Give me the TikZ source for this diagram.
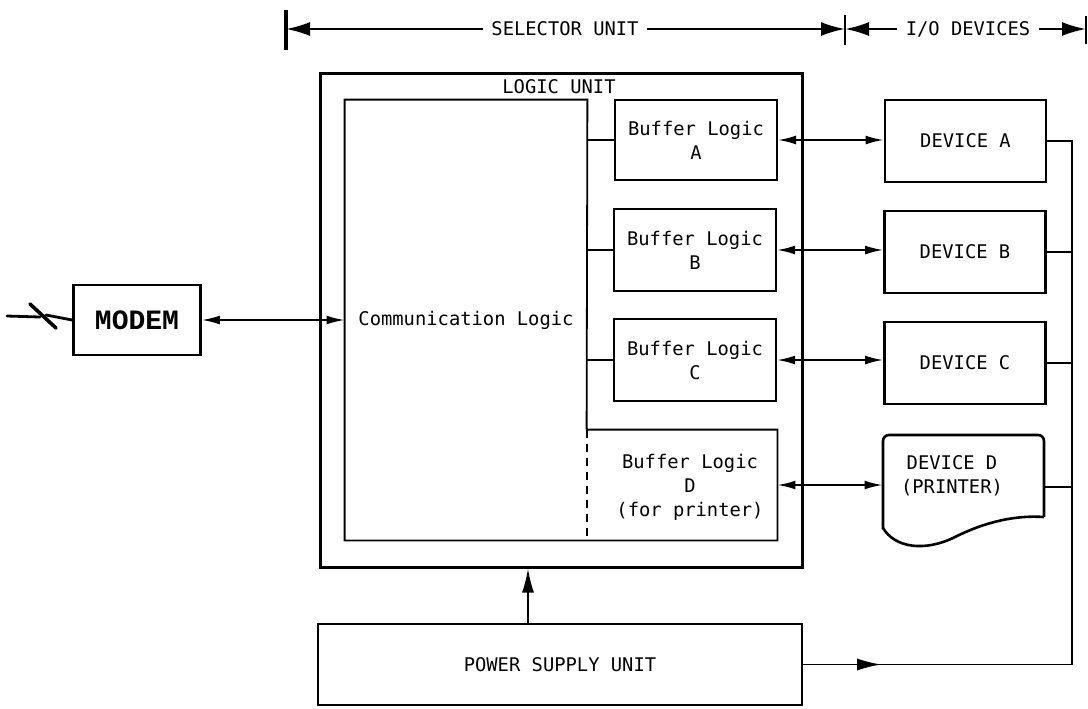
\documentclass[tikz,border=0pt]{standalone}
\usepackage{fontspec}
\setmonofont{DejaVu Sans Mono}
\newfontfamily\modemfont{Liberation Mono}
\usetikzlibrary{arrows.meta,calc}
\begin{document}
\begin{tikzpicture}[x=0.5pt,y=-0.5pt,
  >={Latex[length=9pt,width=4.4pt]},
  every node/.style={font=\ttfamily\fontsize{9.4}{12}\selectfont, inner sep=0pt, align=center},
  outerbox/.style={draw, line width=1.5pt},
  bufbox/.style={draw, line width=1pt, minimum width=81pt, minimum height=40pt},
  devbox/.style={draw, line width=1.3pt, minimum width=80.5pt, minimum height=41pt},
  conn/.style={line width=0.9pt},
  powerarrow/.style={line width=0.9pt, -{Latex[length=12pt,width=6pt]}},
  commline/.style={line width=0.9pt},
  dimline/.style={line width=1.1pt, -{Latex[length=12pt,width=7pt]}},
  tickline/.style={line width=1.2pt}
]
\useasboundingbox (0,0) rectangle (1088,708);

% dimension line
\coordinate (tL) at (286,29);
\coordinate (tM) at (845,29);
\coordinate (tR) at (1086,29);
\draw[tickline, line width=1.6pt] (286,10) -- (286,50);
\draw[tickline] (845,15) -- (845,45);
\draw[tickline] (1086,16) -- (1086,44);
\node[inner xsep=4pt] (sel) at (565,29) {SELECTOR UNIT};
\node[inner xsep=4pt] (io) at (968,29) {I/O DEVICES};
\draw[dimline] (sel.west) -- (tL);
\draw[dimline] (sel.east) -- (tM);
\draw[dimline] (io.west) -- (tM);
\draw[dimline] (io.east) -- (tR);

% logic unit
\node[outerbox, minimum width=241pt, minimum height=247pt] (logic) at (561,320) {};
\node (logiclabel) at (559,87) {LOGIC UNIT};

\node[minimum width=121pt, minimum height=220pt] (comm) at (466,320) {Communication Logic};
\node[bufbox] (bufA) at (696,140) {Buffer Logic\\A};
\node[bufbox, minimum height=41pt] (bufB) at (695,250) {Buffer Logic\\B};
\node[bufbox, minimum height=41pt] (bufC) at (695,360) {Buffer Logic\\C};
\node[minimum width=95pt, minimum height=55pt, text depth=0pt] (bufD) at (682,485) {\hspace*{8pt}Buffer Logic\\\hspace*{8pt}D\\\hspace*{8pt}(for printer)};

\draw[commline] (bufD.north west) -- (comm.north east) -- (comm.north west)
  -- (comm.south west) -- (bufD.south east) -- (bufD.north east) -- (bufD.north west);
\draw[commline, dash pattern=on 4pt off 3pt] (bufD.north west) -- (bufD.south west);

% devices
\node[devbox] (devA) at (965.5,141) {DEVICE A};
\node[devbox] (devB) at (965,252) {DEVICE B};
\node[devbox] (devC) at (965,363) {DEVICE C};
\node[minimum width=80.5pt, minimum height=52pt] (devD) at (963.5,487) {};
\node (devDtext) at (952,476) {DEVICE D\\(PRINTER)};
\draw[line width=1.3pt, rounded corners=3pt]
  (1044,517) -- (1044,435) -- (883,435) -- (883,529);
\draw[line width=1.3pt]
  (883,528) .. controls (895,548) and (925,552) .. (955,537)
  .. controls (985,522) and (1015,515) .. (1044,517);

% modem
\node[draw, line width=1.3pt, minimum width=63.5pt, minimum height=35pt,
  font=\modemfont\bfseries\fontsize{14}{16}\selectfont] (modem) at (137,320) {MODEM};
\coordinate (line0) at (7,316);
\draw[line width=1.4pt, line cap=round] (line0) -- (40,317);
\draw[line width=1.8pt, line cap=round] (30,304) -- (56,328);
\draw[line width=1.4pt, line cap=round] (46,315) -- (modem.west);

% power supply
\node[draw, line width=1.2pt, minimum width=242pt, minimum height=40.5pt] (PS) at (560,664.5) {POWER SUPPLY UNIT};

% connectors
\draw[conn, <->] (modem.east) -- (comm.west);
\foreach \b in {A,B,C}{
  \draw[conn] (buf\b.west -| comm.east) -- (buf\b.west);
}
\draw[conn, <->] (bufA.east) -- (bufA.east -| devA.west);
\draw[conn, <->] (bufB.east) -- (bufB.east -| devB.west);
\draw[conn, <->] (bufC.east) -- (bufC.east -| devC.west);
\draw[conn, <->] (bufD.east) -- (bufD.east -| devD.west);

\coordinate (busT) at (1072,141);
\coordinate (busB) at (1072,664.5);
\draw[conn] (devA.east) -- (devA.east -| busT) -- (busB) -- (PS.east);
\draw[conn] (devB.east) -- (devB.east -| busT);
\draw[conn] (devC.east) -- (devC.east -| busT);
\draw[conn] (devD.east) -- (devD.east -| busT);
\draw[powerarrow] (PS.east) -- ($(PS.east)+(78,0)$);

\coordinate (pwx) at (528,0);
\draw[powerarrow] (PS.north -| pwx) -- (logic.south -| pwx);
\end{tikzpicture}
\end{document}
